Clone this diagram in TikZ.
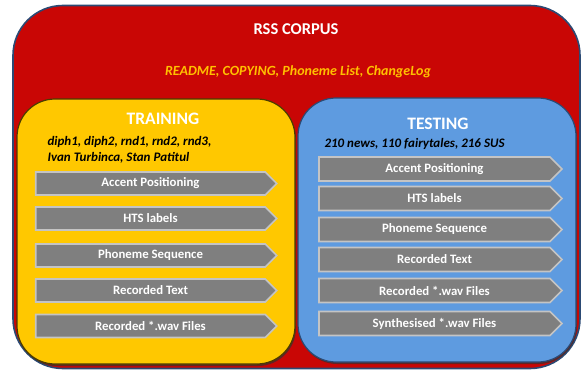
\documentclass[tikz,border=0pt]{standalone}
\usepackage{fontspec}
\setmainfont{Carlito}
\usetikzlibrary{shapes.symbols,shadows}
\definecolor{rssred}{HTML}{C90605}
\definecolor{rssnavy}{HTML}{2B4A74}
\definecolor{trainyellow}{HTML}{FFC800}
\definecolor{testblue}{HTML}{5E9BE0}
\definecolor{arrgray}{HTML}{7F7F7F}
\definecolor{arrborder}{HTML}{C4C4C4}
\definecolor{readmeorange}{HTML}{FFC000}
\begin{document}
\begin{tikzpicture}[x=1pt,y=-1pt,
  corpusbox/.style={draw=rssnavy, fill=rssred, line width=1.6pt, rounded corners=50pt, inner sep=0pt},
  trainbox/.style={draw=black!70!trainyellow, fill=trainyellow, line width=1.2pt, rounded corners=38pt, inner sep=0pt,
     drop shadow={shadow xshift=1pt, shadow yshift=-2pt, fill=black!80, opacity=0.7}},
  testbox/.style={draw=rssnavy, fill=testblue, line width=1.2pt, rounded corners=38pt, inner sep=0pt,
     drop shadow={shadow xshift=1pt, shadow yshift=-2pt, fill=black!80, opacity=0.7}},
  arrowbox/.style={shape=signal, signal to=east, signal pointer angle=90, fill=arrgray, draw=arrborder,
     line width=1.6pt, text=white, font=\bfseries\fontsize{12.8}{14}\selectfont, inner sep=0pt},
  trainarrow/.style={arrowbox, minimum width=241pt, minimum height=23pt},
  testarrow/.style={arrowbox, minimum width=243pt, minimum height=24pt},
  title/.style={text=white, font=\bfseries\fontsize{17.5}{19}\selectfont},
  subtitle/.style={text=black, font=\bfseries\itshape\fontsize{13}{16}\selectfont, align=left, anchor=west}
]
\useasboundingbox (0,0) rectangle (582,372);
\node[corpusbox, minimum width=567pt, minimum height=363pt] (corpus) at (296.5,187) {};
\node[text=white, font=\bfseries\fontsize{16.5}{18}\selectfont] (corpustitle) at (296,29) {RSS CORPUS};
\node[text=readmeorange, font=\bfseries\itshape\fontsize{14}{16}\selectfont] (readme) at (298,72) {README, COPYING, Phoneme List, ChangeLog};

\node[trainbox, minimum width=278pt, minimum height=265pt] (training) at (156,231.5) {};
\node[testbox, minimum width=278pt, minimum height=264pt] (testing) at (437,230) {};

\node[title] (traintitle) at (163,119) {TRAINING};
\node[subtitle] (trainsub) at (44,149.5) {diph1, diph2, rnd1, rnd2, rnd3,\\Ivan Turbinca, Stan Patitul};

\node[trainarrow] (tr1) at (150.5,183.5) {Accent Positioning};
\node[trainarrow] (tr2) at (150.5,218.5) {HTS labels};
\node[trainarrow] (tr3) at (150.5,255.5) {Phoneme Sequence};
\node[trainarrow] (tr4) at (150.5,290.5) {Recorded Text};
\node[trainarrow] (tr5) at (150.5,326) {Recorded *.wav Files};

\node[title] (testtitle) at (438,124) {TESTING};
\node[subtitle] (testsub) at (321,144) {210 news, 110 fairytales, 216 SUS};

\node[testarrow] (te1) at (434.5,169) {Accent Positioning};
\node[testarrow] (te2) at (434.5,198.5) {HTS labels};
\node[testarrow] (te3) at (434.5,229.5) {Phoneme Sequence};
\node[testarrow] (te4) at (434.5,259.5) {Recorded Text};
\node[testarrow] (te5) at (434.5,290.5) {Recorded *.wav Files};
\node[testarrow] (te6) at (434.5,323.5) {Synthesised *.wav Files};
\end{tikzpicture}
\end{document}
